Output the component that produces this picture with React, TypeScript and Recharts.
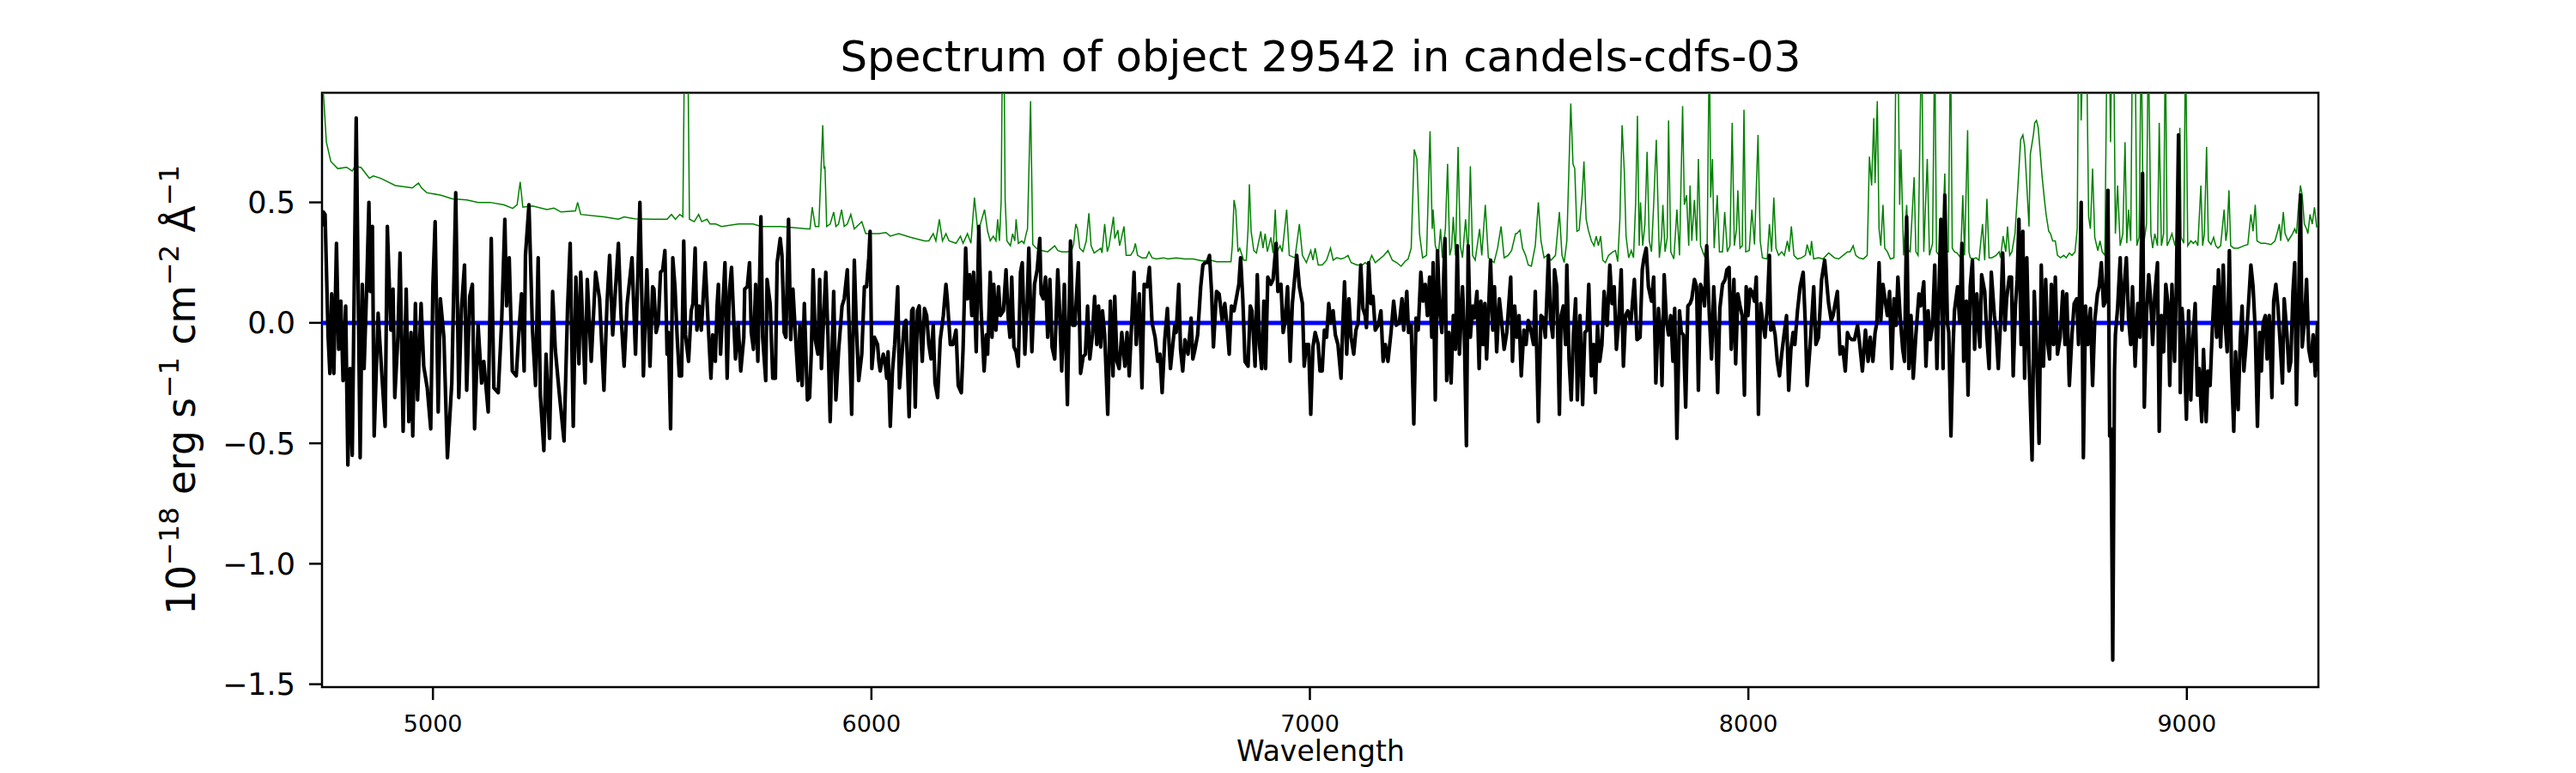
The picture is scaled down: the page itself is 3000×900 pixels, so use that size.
import React from 'react';
import { ComposedChart, Line, XAxis, YAxis, ReferenceArea } from 'recharts';

type P = [number, number];

// Flux (black), wavelength in Angstrom, value in 1e-18 erg/s/cm2/A
const FLUX_A: P[] = [[4748,0.40],[4750,0.46],[4754,0.45],[4761,-0.06],[4765,-0.21],[4769,0.12],[4774,-0.21],[4780,0.33],[4785,-0.11],[4790,0.09],[4795,-0.24],[4801,0.07],[4806,-0.59],[4811,-0.19],[4816,-0.55],[4825,0.85],[4834,-0.56],[4839,0.16],[4843,-0.19],[4849,0.15],[4854,0.50],[4857,0.13],[4862,0.40],[4866,-0.47],[4875,0.04],[4883,-0.20],[4891,-0.43],[4896,0.40],[4904,-0.03],[4909,0.14],[4913,-0.31],[4920,-0.06],[4925,0.29],[4932,-0.45],[4939,0.14],[4945,-0.41],[4950,-0.04],[4954,-0.47],[4960,0.08],[4965,-0.32],[4973,0.08],[4979,-0.18],[4987,-0.27],[4995,-0.44],[5000,0.16],[5005,0.42],[5012,-0.37],[5017,0.10],[5025,-0.06],[5033,-0.56],[5043,-0.25],[5052,0.54],[5059,-0.31],[5065,0.06],[5072,0.24],[5077,-0.28],[5084,0.11],[5090,0.16],[5095,-0.44],[5103,-0.01],[5111,-0.25],[5116,-0.16],[5126,-0.37],[5133,0.35],[5139,-0.27],[5149,-0.29],[5157,0.02],[5164,0.43],[5168,0.07],[5174,0.27],[5181,-0.20],[5190,-0.22],[5196,-0.04],[5202,0.12],[5208,-0.20],[5211,0.28],[5219,0.49],[5227,-0.03],[5234,-0.26],[5240,0.27],[5245,-0.30],[5253,-0.53],[5258,-0.13],[5266,-0.48],[5273,0.13],[5279,-0.11],[5288,-0.29],[5299,-0.49],[5307,0.06],[5313,0.33],[5320,-0.43],[5326,0.19],[5333,-0.17],[5337,0.21],[5347,-0.25],[5352,0.18],[5361,-0.16],[5371,0.21],[5380,0.10],[5390,-0.28],[5397,0.08],[5403,0.28],[5410,-0.05],[5416,0.13],[5423,0.33],[5429,0.03],[5436,-0.18],[5443,0.08],[5454,0.27],[5462,-0.13],[5472,0.50],[5480,-0.22],[5488,0.22],[5495,-0.18],[5501,0.15]];

const FLUX_B: P[] = [[5504,0.14],[5509,-0.04],[5514,0.00],[5519,0.21],[5524,0.22],[5529,0.30],[5534,-0.13],[5537,-0.04],[5542,-0.44],[5547,0.27],[5552,0.15],[5557,-0.06],[5562,-0.22],[5567,-0.22],[5572,0.34],[5576,-0.05],[5583,-0.16],[5589,0.05],[5593,0.08],[5598,0.31],[5602,-0.03],[5607,0.07],[5612,-0.03],[5621,0.25],[5627,0.02],[5634,-0.23],[5638,-0.05],[5644,-0.16],[5648,0.07],[5651,0.16],[5656,-0.13],[5661,0.07],[5666,0.25],[5671,-0.23],[5676,0.13],[5681,0.23],[5687,-0.03],[5690,-0.15],[5696,0.00],[5702,-0.20],[5709,-0.06],[5711,0.14],[5717,0.15],[5722,0.25],[5726,-0.04],[5731,-0.11],[5736,0.16],[5741,-0.16],[5748,0.44],[5752,-0.06],[5759,-0.24],[5762,0.18],[5769,0.08],[5775,-0.23],[5781,-0.23],[5785,0.25],[5792,0.35],[5796,0.28],[5801,-0.04],[5805,-0.06],[5811,0.43],[5816,-0.07],[5821,0.14],[5828,-0.09],[5833,-0.24],[5837,-0.01],[5842,-0.26],[5847,0.08],[5854,-0.32],[5859,-0.31],[5863,-0.12],[5867,0.22],[5872,-0.07],[5878,-0.13],[5882,0.18],[5886,-0.19],[5891,0.02],[5896,0.21],[5901,-0.06],[5906,-0.41],[5914,0.13],[5919,-0.32],[5925,-0.12],[5933,0.07],[5938,0.10],[5945,0.22],[5950,-0.06],[5955,-0.38],[5961,0.26],[5966,-0.03],[5971,-0.24],[5978,-0.13],[5984,0.15],[5989,0.15],[5994,0.27],[5997,0.38],[6001,-0.19],[6007,-0.06],[6014,-0.09],[6017,-0.16],[6020,-0.20],[6027,-0.13],[6031,-0.16],[6035,-0.23],[6038,-0.12],[6043,-0.43],[6048,-0.20],[6053,-0.09],[6060,0.15],[6064,-0.27],[6069,-0.15],[6075,0.00],[6079,0.01],[6086,-0.39],[6092,0.05],[6095,0.06],[6100,-0.35],[6105,0.05],[6109,0.07],[6116,-0.16],[6121,0.06],[6126,0.03],[6131,-0.09],[6136,-0.15],[6141,-0.01],[6145,-0.25],[6151,-0.31],[6157,-0.07],[6164,0.03],[6170,0.16],[6173,0.10],[6180,-0.09],[6186,-0.09],[6193,-0.03],[6198,-0.26],[6205,-0.29],[6209,-0.11],[6215,0.31],[6219,0.10],[6224,0.20],[6229,0.03],[6233,0.21],[6239,-0.12],[6245,0.40],[6250,0.06],[6257,-0.20],[6262,-0.05]];

const FLUX_C: P[] = [[6265,-0.13],[6271,0.21],[6275,-0.06],[6279,0.16],[6284,-0.03],[6290,0.15],[6294,0.03],[6301,0.05],[6307,0.22],[6312,0.02],[6316,-0.06],[6320,0.19],[6325,-0.10],[6330,-0.12],[6335,-0.18],[6340,0.21],[6344,0.25],[6350,-0.13],[6355,0.07],[6359,0.31],[6366,-0.12],[6372,0.16],[6378,0.22],[6384,0.35],[6387,0.12],[6392,0.10],[6397,0.19],[6402,-0.06],[6407,0.18],[6412,-0.10],[6418,-0.15],[6425,0.22],[6429,0.06],[6434,-0.20],[6440,0.16],[6447,-0.34],[6454,0.34],[6459,-0.01],[6464,-0.01],[6472,0.25],[6477,-0.21],[6483,-0.14],[6488,-0.13],[6493,0.07],[6498,-0.15],[6504,-0.05],[6509,0.11],[6514,-0.09],[6518,0.07],[6523,-0.10],[6527,0.05],[6532,-0.05],[6539,-0.38],[6545,0.09],[6551,-0.22],[6555,0.11],[6560,-0.16],[6565,-0.19],[6571,-0.04],[6578,-0.18],[6583,-0.04],[6588,-0.22],[6592,-0.06],[6599,0.21],[6604,-0.09],[6611,0.12],[6617,-0.27],[6622,0.16],[6629,0.15],[6634,0.23],[6640,0.00],[6647,-0.06],[6653,-0.16],[6658,-0.13],[6663,-0.29],[6669,-0.07],[6675,0.06],[6679,-0.09],[6682,-0.19],[6688,-0.08],[6692,-0.01],[6695,-0.04],[6701,0.16],[6705,-0.11],[6710,-0.20],[6715,-0.07],[6722,-0.13],[6729,0.02],[6733,-0.15],[6738,-0.11],[6744,-0.05],[6751,0.15],[6756,0.24],[6761,0.25],[6766,0.25],[6771,0.28],[6776,0.12],[6780,-0.10],[6787,0.13],[6793,0.12],[6800,0.01],[6806,0.08],[6812,-0.03],[6816,-0.13],[6821,0.07],[6827,0.05],[6832,0.10],[6838,0.16],[6842,0.27],[6847,0.10],[6852,-0.16],[6859,-0.18],[6864,0.07],[6868,0.05],[6875,-0.18],[6880,0.20],[6885,-0.09],[6890,-0.19],[6895,0.09],[6899,-0.19],[6904,0.19],[6911,0.16],[6916,0.18],[6923,0.33],[6927,0.13],[6934,0.16],[6939,-0.04],[6943,0.00],[6949,0.15],[6955,-0.16],[6960,0.08],[6970,0.28],[6976,0.15],[6983,0.08],[6987,-0.18],[6992,-0.09],[6997,-0.09],[7002,-0.38],[7007,-0.10],[7012,-0.04],[7019,-0.09],[7023,-0.20]];

const FLUX_D: P[] = [[7028,-0.20],[7033,-0.03],[7038,-0.06],[7043,0.08],[7048,0.00],[7053,0.05],[7058,-0.05],[7064,-0.09],[7071,-0.23],[7075,-0.01],[7079,0.17],[7084,-0.13],[7089,0.10],[7094,-0.06],[7100,-0.13],[7105,-0.03],[7110,0.00],[7116,0.24],[7121,0.06],[7126,0.03],[7129,-0.02],[7134,0.25],[7139,0.08],[7144,0.11],[7149,-0.03],[7156,-0.01],[7162,0.05],[7167,-0.16],[7172,-0.09],[7178,-0.16],[7185,-0.04],[7191,0.09],[7197,-0.01],[7204,0.00],[7210,0.10],[7214,-0.03],[7221,0.13],[7225,-0.04],[7231,-0.01],[7237,-0.42],[7242,0.02],[7247,-0.03],[7253,0.21],[7258,0.09],[7263,0.16],[7268,0.03],[7273,0.19],[7278,-0.06],[7281,0.25],[7286,-0.32],[7291,0.30],[7296,0.05],[7301,-0.04],[7308,0.35],[7312,-0.24],[7317,-0.04],[7322,-0.25],[7327,0.03],[7332,-0.11],[7336,0.32],[7341,-0.13],[7348,0.15],[7352,-0.03],[7357,-0.51],[7361,0.32],[7366,-0.06],[7371,0.07],[7375,0.02],[7381,0.13],[7386,-0.19],[7390,0.09],[7395,-0.09],[7399,0.08],[7403,-0.15],[7408,0.08],[7412,0.26],[7417,-0.03],[7421,0.15],[7426,-0.12],[7432,0.10],[7436,0.03],[7443,-0.11],[7449,-0.04],[7458,0.19],[7462,-0.16],[7467,0.07],[7472,-0.06],[7477,0.03],[7482,-0.22],[7488,-0.03],[7493,-0.09],[7498,0.01],[7505,-0.04],[7510,-0.09],[7514,0.13],[7521,-0.41],[7527,0.03],[7532,0.02],[7537,-0.06],[7544,0.28],[7549,0.01],[7554,-0.06],[7558,0.22],[7563,0.15],[7569,-0.38],[7573,0.03],[7578,0.07],[7583,-0.09],[7586,0.24],[7591,-0.15],[7596,-0.32],[7601,-0.05],[7606,0.10],[7610,-0.32],[7616,0.03],[7622,-0.34],[7627,-0.04],[7632,-0.03],[7636,0.16],[7642,-0.22],[7647,-0.09],[7651,-0.29],[7656,-0.01],[7661,-0.16],[7666,-0.09],[7671,0.13],[7678,-0.01],[7684,0.24],[7689,0.08],[7694,0.15],[7699,-0.11],[7704,0.00],[7710,0.22],[7715,-0.18],[7720,0.03],[7725,0.05],[7732,0.00],[7740,0.18],[7746,-0.07],[7753,-0.06],[7758,0.22],[7762,0.27],[7767,0.31],[7772,0.15],[7779,0.09],[7784,0.19],[7789,-0.25]];

const FLUX_E: P[] = [[7795,0.06],[7800,-0.05],[7803,-0.26],[7808,0.20],[7813,0.01],[7818,-0.05],[7823,0.03],[7828,-0.16],[7832,0.06],[7837,-0.48],[7843,0.05],[7847,-0.04],[7852,-0.05],[7857,-0.35],[7862,0.07],[7867,0.08],[7871,0.10],[7877,0.18],[7882,0.15],[7886,-0.28],[7891,0.16],[7896,0.13],[7900,0.07],[7905,0.32],[7911,0.03],[7916,-0.15],[7921,0.15],[7926,-0.05],[7930,-0.29],[7935,0.06],[7941,0.16],[7947,0.18],[7951,0.22],[7956,0.23],[7961,-0.11],[7967,0.18],[7971,-0.17],[7976,0.12],[7981,0.07],[7986,0.03],[7991,-0.30],[7995,0.15],[7999,0.03],[8004,0.14],[8008,0.13],[8014,0.09],[8018,0.19],[8023,-0.38],[8028,0.08],[8033,0.00],[8038,-0.06],[8043,0.06],[8048,0.28],[8051,-0.03],[8056,0.00],[8061,-0.05],[8066,-0.16],[8071,-0.22],[8076,-0.13],[8082,-0.04],[8087,0.03],[8092,-0.28],[8097,-0.11],[8102,-0.04],[8106,-0.09],[8112,0.05],[8118,0.15],[8125,0.21],[8130,-0.01],[8134,-0.26],[8141,-0.09],[8149,0.15],[8154,-0.09],[8160,-0.06],[8167,0.18],[8174,0.26],[8178,0.18],[8183,0.08],[8189,0.01],[8193,0.03],[8198,0.08],[8203,0.13],[8209,-0.13],[8215,-0.10],[8221,-0.20],[8226,-0.04],[8230,-0.06],[8236,-0.07],[8242,-0.07],[8249,-0.01],[8254,-0.09],[8260,-0.20],[8267,-0.03],[8273,-0.16],[8278,-0.06],[8284,-0.16],[8289,-0.04],[8293,0.00],[8298,0.25],[8302,0.01],[8307,0.16],[8313,0.08],[8317,0.03],[8322,0.13],[8327,-0.19],[8332,0.10],[8337,-0.01],[8341,0.19],[8346,0.03],[8352,-0.11],[8356,-0.16],[8361,0.44],[8366,-0.19],[8371,0.03],[8376,-0.23],[8382,-0.05],[8389,0.12],[8393,0.07],[8400,0.17],[8405,-0.18],[8410,0.05],[8415,-0.07],[8420,-0.01],[8425,0.24],[8430,-0.19],[8435,0.15],[8439,0.43],[8444,-0.19],[8448,0.53],[8454,0.00],[8457,-0.04],[8462,-0.47],[8467,-0.09],[8470,0.05],[8477,0.15],[8482,0.00],[8487,0.33],[8491,-0.16],[8497,0.09],[8501,-0.30],[8506,0.15],[8511,0.26],[8516,-0.11],[8521,0.12],[8528,-0.10],[8532,0.20],[8539,0.13],[8544,-0.06],[8549,-0.19],[8554,0.21]];

const FLUX_F: P[] = [[8561,0.03],[8565,-0.03],[8570,-0.19],[8575,0.00],[8580,0.29],[8585,-0.03],[8589,0.10],[8595,0.19],[8600,0.19],[8604,-0.22],[8609,0.07],[8613,0.18],[8617,0.43],[8622,-0.09],[8626,0.38],[8630,-0.23],[8635,0.27],[8640,-0.15],[8647,-0.57],[8652,0.13],[8657,-0.11],[8663,-0.50],[8668,0.24],[8673,-0.18],[8678,0.18],[8683,-0.09],[8687,-0.15],[8691,0.16],[8696,-0.09],[8700,0.19],[8705,-0.13],[8711,-0.06],[8717,0.13],[8722,-0.09],[8726,0.12],[8732,-0.26],[8738,-0.05],[8743,0.08],[8749,0.10],[8753,-0.09],[8759,0.50],[8764,-0.56],[8769,0.07],[8774,-0.09],[8780,0.06],[8785,-0.26],[8790,0.01],[8796,0.12],[8800,0.15],[8805,0.25],[8810,0.07],[8815,0.09],[8820,0.55],[8824,-0.47],[8827,-0.44],[8831,-1.40],[8835,-0.20],[8837,-0.05],[8842,0.06],[8848,0.27],[8852,-0.03],[8857,0.15],[8862,0.27],[8867,0.02],[8872,-0.09],[8876,0.15],[8882,-0.18],[8888,0.08],[8893,-0.06],[8899,0.62],[8903,-0.35],[8908,0.03],[8913,0.20],[8918,0.08],[8922,-0.09],[8927,0.12],[8933,0.25],[8937,-0.45],[8942,0.03],[8947,-0.12],[8952,0.16],[8957,0.08],[8961,-0.26],[8966,0.16],[8972,-0.16],[8976,0.15],[8981,0.78],[8985,-0.29],[8989,0.06],[8994,-0.09],[8999,-0.40],[9004,0.05],[9009,-0.32],[9013,-0.09],[9019,0.08],[9024,-0.30],[9028,-0.19],[9034,-0.41],[9038,-0.11],[9044,-0.41],[9048,-0.20],[9053,-0.26],[9058,-0.03],[9063,0.15],[9068,-0.06],[9072,0.22],[9077,-0.10],[9083,0.24],[9087,0.01],[9092,-0.12],[9097,0.30],[9102,-0.20],[9107,-0.45],[9111,-0.12],[9117,-0.36],[9122,-0.06],[9126,0.07],[9130,-0.20],[9135,-0.09],[9139,0.03],[9146,0.24],[9151,0.15],[9156,-0.03],[9161,-0.43],[9166,-0.04],[9170,-0.20],[9174,0.00],[9179,0.03],[9183,-0.15],[9188,0.03],[9194,-0.31],[9198,0.09],[9203,0.16],[9208,0.06],[9213,-0.09],[9218,-0.25],[9222,0.10],[9228,-0.04],[9233,-0.20],[9237,-0.16],[9242,0.13],[9246,0.25],[9250,-0.34],[9255,0.10],[9259,0.53],[9263,-0.10],[9268,0.00],[9273,0.18],[9278,-0.11],[9283,-0.16],[9288,-0.05],[9293,-0.22],[9298,0.00],[9300,-0.20]];

// Noise / sky spectrum (green)
const NOISE_A: P[] = [[4748,1.0],[4751,0.93],[4757,0.75],[4767,0.67],[4783,0.64],[4803,0.646],[4816,0.63],[4822,0.65],[4836,0.645],[4855,0.60],[4864,0.61],[4881,0.60],[4914,0.57],[4953,0.56],[4967,0.58],[4974,0.56],[4986,0.54],[5018,0.53],[5044,0.515],[5077,0.51],[5103,0.50],[5130,0.50],[5162,0.49],[5182,0.475],[5192,0.49],[5199,0.585],[5205,0.48],[5227,0.485],[5260,0.47],[5276,0.476],[5292,0.46],[5325,0.465],[5330,0.50],[5337,0.45],[5390,0.44],[5423,0.43],[5436,0.44],[5460,0.432],[5501,0.43]];

const NOISE_B: P[] = [[5534,0.43],[5544,0.45],[5553,0.43],[5563,0.45],[5570,0.44],[5574,1.2],[5581,1.2],[5585,0.43],[5596,0.42],[5606,0.45],[5613,0.42],[5625,0.43],[5632,0.41],[5645,0.41],[5658,0.40],[5697,0.41],[5730,0.41],[5749,0.40],[5762,0.40],[5795,0.40],[5854,0.39],[5860,0.39],[5865,0.48],[5872,0.40],[5880,0.40],[5885,0.63],[5889,0.82],[5892,0.64],[5894,0.65],[5898,0.40],[5906,0.41],[5914,0.46],[5919,0.40],[5925,0.41],[5932,0.47],[5938,0.40],[5945,0.41],[5953,0.45],[5961,0.39],[5978,0.42],[5987,0.37],[6017,0.37],[6033,0.375],[6043,0.36],[6062,0.37],[6089,0.355],[6121,0.34],[6131,0.34],[6141,0.37],[6147,0.34],[6155,0.43],[6162,0.34],[6170,0.37],[6177,0.34],[6193,0.33],[6203,0.36],[6209,0.33],[6219,0.37],[6227,0.33],[6235,0.52],[6242,0.39],[6247,0.40],[6258,0.47],[6265,0.38]];

const NOISE_C: P[] = [[6271,0.34],[6278,0.36],[6284,0.34],[6288,0.43],[6292,0.34],[6296,0.51],[6299,1.2],[6302,1.2],[6305,0.51],[6309,0.34],[6317,0.32],[6322,0.37],[6327,0.34],[6330,0.43],[6335,0.33],[6343,0.34],[6348,0.33],[6353,0.37],[6356,0.39],[6363,0.92],[6368,0.325],[6376,0.31],[6389,0.30],[6402,0.295],[6412,0.31],[6418,0.32],[6425,0.30],[6434,0.295],[6447,0.295],[6457,0.30],[6461,0.325],[6466,0.41],[6470,0.39],[6475,0.31],[6483,0.295],[6490,0.34],[6496,0.455],[6501,0.32],[6508,0.29],[6516,0.30],[6523,0.31],[6526,0.29],[6532,0.41],[6538,0.295],[6542,0.32],[6552,0.44],[6555,0.35],[6562,0.385],[6566,0.32],[6570,0.35],[6576,0.40],[6581,0.28],[6591,0.28],[6598,0.30],[6602,0.33],[6607,0.28],[6617,0.27],[6627,0.27],[6633,0.295],[6640,0.27],[6650,0.265],[6666,0.27],[6676,0.265],[6695,0.27],[6715,0.265],[6734,0.265],[6754,0.257],[6774,0.26],[6787,0.254],[6820,0.254],[6823,0.32],[6827,0.51],[6831,0.47],[6836,0.295],[6840,0.31],[6849,0.26],[6855,0.26],[6859,0.39],[6862,0.575],[6866,0.38],[6872,0.30],[6878,0.29],[6888,0.38],[6893,0.31],[6898,0.37],[6903,0.295],[6911,0.355],[6916,0.29],[6921,0.47],[6925,0.295],[6932,0.32],[6937,0.295],[6947,0.47],[6953,0.28],[6966,0.27],[6976,0.41],[6983,0.28],[6992,0.25],[7002,0.30],[7007,0.26],[7012,0.31],[7019,0.24]];

const NOISE_D: P[] = [[7028,0.24],[7038,0.26],[7047,0.31],[7053,0.26],[7061,0.27],[7071,0.265],[7079,0.27],[7087,0.28],[7094,0.25],[7107,0.24],[7120,0.24],[7126,0.25],[7133,0.24],[7141,0.28],[7149,0.25],[7159,0.265],[7169,0.28],[7178,0.30],[7188,0.26],[7198,0.25],[7208,0.235],[7218,0.257],[7224,0.265],[7231,0.31],[7238,0.72],[7244,0.68],[7250,0.37],[7257,0.27],[7266,0.28],[7274,0.795],[7279,0.39],[7281,0.47],[7286,0.32],[7293,0.28],[7298,0.39],[7302,0.27],[7309,0.39],[7314,0.66],[7319,0.28],[7323,0.31],[7327,0.44],[7332,0.28],[7338,0.73],[7343,0.32],[7348,0.27],[7355,0.43],[7361,0.28],[7366,0.65],[7371,0.28],[7377,0.26],[7387,0.39],[7392,0.28],[7400,0.49],[7407,0.27],[7420,0.25],[7428,0.31],[7436,0.40],[7443,0.27],[7452,0.28],[7460,0.30],[7469,0.37],[7472,0.37],[7479,0.385],[7485,0.31],[7492,0.28],[7498,0.24],[7505,0.235],[7514,0.32],[7521,0.50],[7527,0.34],[7534,0.27],[7541,0.28],[7550,0.26],[7560,0.28],[7569,0.46],[7575,0.28],[7580,0.25],[7586,0.34],[7595,0.91],[7600,0.66],[7604,0.64],[7609,0.38],[7614,0.385],[7621,0.53],[7625,0.67],[7630,0.43],[7635,0.385],[7642,0.34],[7648,0.32],[7653,0.36],[7658,0.32],[7663,0.36],[7668,0.26],[7674,0.25],[7681,0.28],[7691,0.295],[7697,0.30],[7702,0.254],[7707,0.43],[7712,0.82],[7717,0.63],[7721,0.36],[7727,0.27],[7733,0.30],[7738,0.27],[7743,0.50],[7747,0.86],[7751,0.32],[7754,0.50],[7759,0.32],[7764,0.41],[7769,0.71],[7774,0.34],[7779,0.295],[7784,0.49],[7790,0.76]];

const NOISE_E: P[] = [[7797,0.27],[7802,0.355],[7805,0.49],[7810,0.295],[7815,0.355],[7818,0.84],[7823,0.295],[7830,0.265],[7837,0.47],[7843,0.28],[7850,0.90],[7854,0.49],[7859,0.53],[7864,0.32],[7867,0.57],[7871,0.34],[7877,0.51],[7882,0.34],[7886,0.68],[7891,0.32],[7899,0.28],[7906,0.32],[7911,1.2],[7914,0.52],[7918,0.68],[7922,0.31],[7929,0.53],[7934,0.295],[7941,0.295],[7946,0.46],[7952,0.295],[7958,0.32],[7963,0.83],[7968,0.32],[7973,0.39],[7976,0.55],[7981,0.31],[7986,0.32],[7990,0.885],[7994,0.295],[8002,0.30],[8008,0.47],[8014,0.325],[8022,0.78],[8027,0.34],[8032,0.27],[8043,0.265],[8048,0.41],[8053,0.295],[8058,0.52],[8063,0.31],[8069,0.28],[8076,0.295],[8082,0.28],[8089,0.34],[8093,0.295],[8098,0.40],[8104,0.28],[8112,0.265],[8121,0.27],[8130,0.28],[8134,0.325],[8141,0.28],[8144,0.34],[8149,0.265],[8160,0.27],[8170,0.265],[8183,0.29],[8190,0.28],[8196,0.27],[8206,0.265],[8216,0.28],[8226,0.295],[8232,0.295],[8239,0.32],[8245,0.28],[8252,0.27],[8262,0.265],[8271,0.28],[8276,0.69],[8281,0.57],[8286,0.85],[8289,0.58],[8294,0.92],[8298,0.39],[8302,0.32],[8307,0.49],[8311,0.31],[8317,0.295],[8324,0.265],[8332,0.27],[8337,1.2],[8341,1.2],[8345,0.49],[8348,0.72],[8354,0.28],[8361,0.49],[8365,0.30],[8369,0.295],[8378,0.605],[8382,0.295],[8387,0.28],[8395,1.2],[8400,0.295],[8408,0.68],[8413,0.28],[8420,0.33],[8425,1.2],[8429,0.295],[8435,0.28],[8441,0.28],[8448,0.62],[8451,0.295],[8456,0.295],[8461,1.2],[8465,0.31],[8470,0.295],[8476,0.29],[8484,0.27],[8489,0.53],[8493,0.28],[8500,0.80],[8503,0.295],[8506,0.27],[8513,0.265],[8519,0.27],[8526,0.26],[8534,0.41],[8539,0.26],[8544,0.515],[8549,0.27],[8555,0.27]];

const NOISE_F: P[] = [[8565,0.28],[8572,0.295],[8575,0.27],[8581,0.36],[8587,0.295],[8591,0.40],[8596,0.28],[8601,0.295],[8608,0.37],[8614,0.545],[8621,0.76],[8626,0.78],[8630,0.735],[8635,0.57],[8640,0.40],[8643,0.70],[8650,0.78],[8653,0.83],[8657,0.84],[8661,0.81],[8665,0.72],[8670,0.605],[8675,0.515],[8679,0.45],[8685,0.38],[8689,0.37],[8694,0.34],[8700,0.34],[8705,0.28],[8712,0.27],[8719,0.28],[8725,0.27],[8732,0.29],[8738,0.28],[8745,0.295],[8750,0.39],[8753,1.2],[8757,1.2],[8759,0.84],[8764,1.2],[8771,1.2],[8776,0.44],[8780,0.39],[8785,0.64],[8790,0.355],[8797,0.30],[8802,0.34],[8807,0.295],[8813,0.28],[8818,1.2],[8823,1.2],[8826,0.75],[8829,1.2],[8833,1.2],[8837,0.37],[8842,0.57],[8848,0.32],[8854,0.37],[8859,0.75],[8863,0.33],[8867,0.47],[8872,0.34],[8876,1.2],[8882,1.2],[8886,0.32],[8891,0.355],[8896,1.2],[8901,0.32],[8908,0.41],[8912,1.2],[8918,0.37],[8922,0.31],[8927,0.37],[8933,0.32],[8937,0.83],[8942,0.32],[8947,0.37],[8951,1.2],[8955,0.32],[8960,0.34],[8966,0.37],[8973,0.32],[8980,0.39],[8984,0.81],[8987,0.355],[8993,0.33],[8997,1.2],[9002,0.32],[9009,0.34],[9015,0.33],[9020,0.34],[9025,0.32],[9032,0.57],[9036,0.32],[9040,0.37],[9045,0.73],[9049,0.34],[9055,0.325],[9061,0.355],[9066,0.32],[9071,0.31],[9077,0.32],[9085,0.47],[9089,0.34],[9092,0.38],[9096,0.55],[9100,0.32],[9107,0.31],[9117,0.31],[9130,0.32],[9139,0.325],[9146,0.45],[9151,0.38],[9156,0.49],[9160,0.34],[9169,0.33],[9179,0.33],[9192,0.325],[9201,0.34],[9207,0.38],[9211,0.41],[9214,0.34],[9220,0.46],[9224,0.37],[9231,0.34],[9241,0.37],[9246,0.39],[9250,0.37],[9254,0.47],[9259,0.57],[9263,0.53],[9268,0.41],[9273,0.39],[9276,0.37],[9281,0.45],[9286,0.41],[9291,0.48],[9296,0.40],[9300,0.41]];

const X_TICKS = [5000, 6000, 7000, 8000, 9000];
const Y_TICKS = [-1.5, -1.0, -0.5, 0.0, 0.5];
const X_DOMAIN: [number, number] = [4747, 9300];
const Y_DOMAIN: [number, number] = [-1.512, 0.955];
const TITLE = 'Spectrum of object 29542 in candels-cdfs-03';
const X_LABEL = 'Wavelength';

const toRows = (pts: P[]) => pts.map(([x, v]) => ({ x, v }));
const fluxRows = toRows([...FLUX_A, ...FLUX_B, ...FLUX_C, ...FLUX_D, ...FLUX_E, ...FLUX_F]);
const noiseRows = toRows([...NOISE_A, ...NOISE_B, ...NOISE_C, ...NOISE_D, ...NOISE_E, ...NOISE_F]);
const zeroRows = toRows([[X_DOMAIN[0], 0], [X_DOMAIN[1], 0]]);

const FONT = 'DejaVu Sans';
const fmtY = (v: number) => (v < 0 ? '\u2212' : '') + Math.abs(v).toFixed(1);

export default function App() {
  return (
    <div style={{ position: 'absolute', left: 0, top: 0, width: 3000, height: 900, background: '#fff' }}>
      <ComposedChart width={3000} height={900} margin={{ top: 108, right: 300, bottom: 0, left: 0 }}>
        <XAxis
          type="number"
          dataKey="x"
          domain={X_DOMAIN}
          ticks={X_TICKS}
          allowDataOverflow
          interval={0}
          height={100}
          tickSize={15}
          tickMargin={18}
          axisLine={false}
          tickLine={{ stroke: '#000', strokeWidth: 2.5 }}
          tick={{ fill: '#000', fontSize: 27, fontFamily: FONT }}
        />
        <YAxis
          type="number"
          domain={Y_DOMAIN}
          ticks={Y_TICKS}
          allowDataOverflow
          interval={0}
          width={375}
          tickSize={15}
          tickMargin={16}
          axisLine={false}
          tickLine={{ stroke: '#000', strokeWidth: 2.5 }}
          tick={{ fill: '#000', fontSize: 35, fontFamily: FONT }}
          tickFormatter={fmtY}
        />
        <Line data={noiseRows} dataKey="v" stroke="#008000" strokeWidth={1.5} dot={false} activeDot={false} isAnimationActive={false} />
        <Line data={zeroRows} dataKey="v" stroke="#0000ff" strokeWidth={5} dot={false} activeDot={false} isAnimationActive={false} />
        <Line data={fluxRows} dataKey="v" stroke="#000000" strokeWidth={4.2} strokeLinejoin="round" dot={false} activeDot={false} isAnimationActive={false} />
        <ReferenceArea x1={X_DOMAIN[0]} x2={X_DOMAIN[1]} y1={Y_DOMAIN[0]} y2={Y_DOMAIN[1]} fill="none" fillOpacity={0} stroke="#000" strokeWidth={2.5} ifOverflow="visible" />
      </ComposedChart>
      <svg width={3000} height={900} style={{ position: 'absolute', left: 0, top: 0, pointerEvents: 'none' }}>
        <text x={1538} y={83} textAnchor="middle" fontSize={49.8} fontFamily={FONT} fill="#000">{TITLE}</text>
        <text x={1538} y={886} textAnchor="middle" fontSize={33} fontFamily={FONT} fill="#000">{X_LABEL}</text>
        <text x={227} y={454} transform="rotate(-90 227 454)" textAnchor="middle" fontSize={45.5} fontFamily={FONT} fill="#000" style={{ whiteSpace: 'pre' }}>
          <tspan>10</tspan>
          <tspan dy={-19} fontSize={32}>{'\u221218'}</tspan>
          <tspan dy={19}>{' erg s'}</tspan>
          <tspan dy={-19} fontSize={32}>{'\u22121'}</tspan>
          <tspan dy={19}>{' cm'}</tspan>
          <tspan dy={-19} fontSize={32}>{'\u22122'}</tspan>
          <tspan dy={19}>{' \u00c5'}</tspan>
          <tspan dy={-19} fontSize={32}>{'\u22121'}</tspan>
        </text>
      </svg>
    </div>
  );
}
